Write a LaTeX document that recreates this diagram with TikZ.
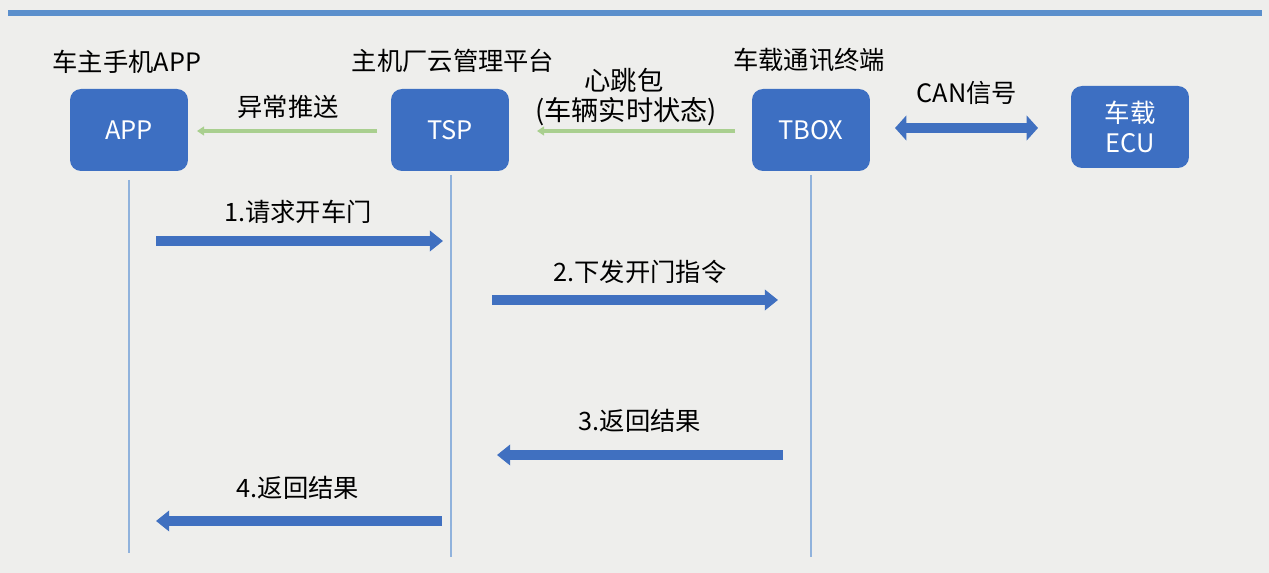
\documentclass[tikz,border=0pt]{standalone}
\usepackage{fontspec}
\setmainfont{Noto Sans CJK SC}
\usetikzlibrary{arrows.meta}
\definecolor{bg}{HTML}{EEEEEC}
\definecolor{boxblue}{HTML}{3D6FC2}
\definecolor{arrblue}{HTML}{4070C0}
\definecolor{lifeblue}{HTML}{90B2DC}
\definecolor{topline}{HTML}{5B8FCC}
\definecolor{lgreen}{HTML}{A9CF8F}
\begin{document}
\begin{tikzpicture}[x=0.02cm,y=-0.02cm,
  box/.style={draw=none,fill=boxblue,rounded corners=0.22cm,minimum width=2.36cm,minimum height=1.64cm,text=white,font=\fontsize{14.5}{17.5}\selectfont,align=center,inner sep=0pt},
  lbl/.style={font=\fontsize{14.4}{17}\selectfont,text=black,align=center,inner sep=0pt},
  life/.style={draw=lifeblue,line width=1.2pt},
  bigarrow/.style={draw=arrblue,line width=5.6pt,-{Triangle[width=11.5pt,length=7.5pt]}},
  greenarrow/.style={draw=lgreen,line width=2.2pt,-{Triangle[width=5pt,length=4pt]}},
  canarrow/.style={draw=arrblue,line width=5.4pt,{Triangle[width=14pt,length=6.5pt]}-{Triangle[width=14pt,length=6.5pt]}}]
\useasboundingbox (0,0) rectangle (1269,573);
\fill[bg] (0,0) rectangle (1269,573);
% top rule
\coordinate (tl) at (8,13);
\coordinate (tr) at (1262,13);
\draw[topline,line width=3.8pt] (tl) -- (tr);
% headers
\node[lbl] (happ) at (127,62) {车主手机APP};
\node[lbl] (htsp) at (453,61) {主机厂云管理平台};
\node[lbl] (htbox) at (809,60) {车载通讯终端};
% boxes
\node[box] (app) at (129,130) {APP};
\node[box] (tsp) at (450,130) {TSP};
\node[box] (tbox) at (811,130) {TBOX};
\node[box] (ecu) at (1130,127) {车载\\ECU};
% lifelines
\coordinate (append) at (129,553);
\coordinate (tspend) at (451,557);
\coordinate (tboxend) at (811,557);
\draw[life] (129,180) -- (append);
\draw[life] (451,175) -- (tspend);
\draw[life] (811,175) -- (tboxend);
% green arrows
\coordinate (g1s) at (377,131); \coordinate (g1e) at (197,131);
\draw[greenarrow] (g1s) -- (g1e);
\node[lbl] (lg1) at (288,107) {异常推送};
\coordinate (g2s) at (735,131); \coordinate (g2e) at (537,131);
\draw[greenarrow] (g2s) -- (g2e);
\node[lbl,font=\fontsize{15}{17}\selectfont] (lg2a) at (624,80) {心跳包};
\node[lbl,font=\fontsize{15.5}{17}\selectfont] (lg2b) at (626,112) {(车辆实时状态)};
% CAN
\coordinate (cs) at (895,128); \coordinate (ce) at (1038,128);
\draw[canarrow] (cs) -- (ce);
\node[lbl] (lcan) at (967,93) {CAN信号};
% messages
\coordinate (m1s) at (156,241); \coordinate (m1e) at (443,241);
\draw[bigarrow] (m1s) -- (m1e);
\node[lbl] (l1) at (298,212) {1.请求开车门};
\coordinate (m2s) at (492,300); \coordinate (m2e) at (778,300);
\draw[bigarrow] (m2s) -- (m2e);
\node[lbl] (l2) at (640,272) {2.下发开门指令};
\coordinate (m3s) at (783,455); \coordinate (m3e) at (497,455);
\draw[bigarrow] (m3s) -- (m3e);
\node[lbl] (l3) at (640,421) {3.返回结果};
\coordinate (m4s) at (442,521); \coordinate (m4e) at (156,521);
\draw[bigarrow] (m4s) -- (m4e);
\node[lbl] (l4) at (298,488) {4.返回结果};
\end{tikzpicture}
\end{document}
